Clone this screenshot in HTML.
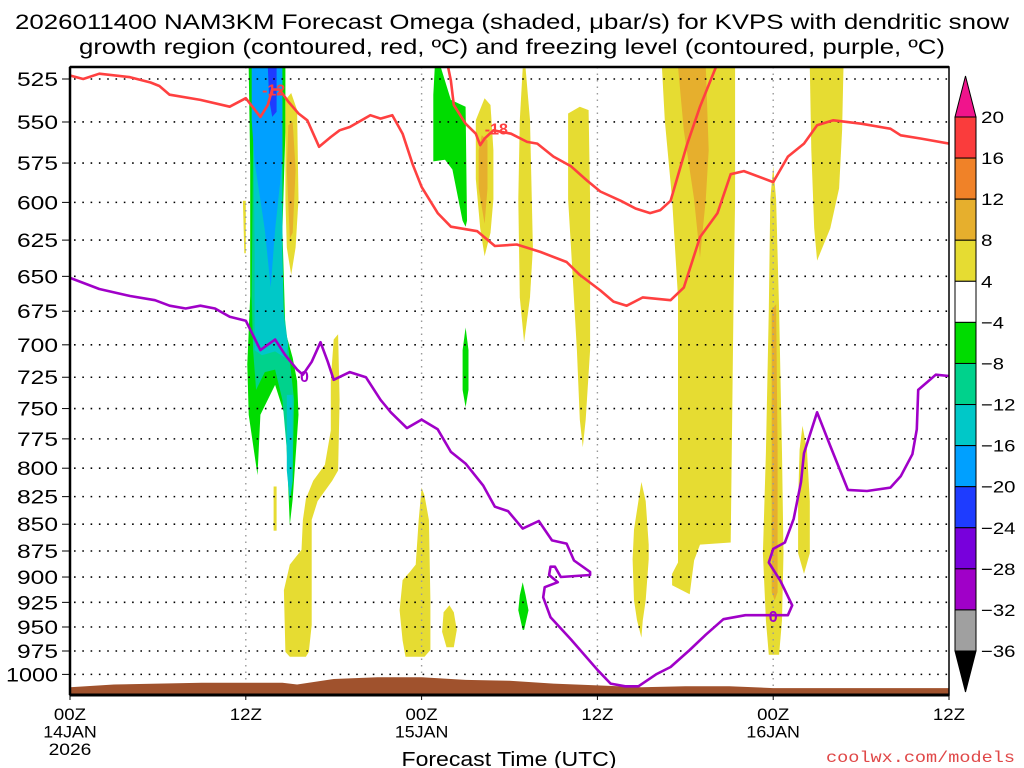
<!DOCTYPE html>
<html><head><meta charset="utf-8"><style>
html,body{margin:0;padding:0;background:#fff;}
svg{display:block;font-family:"Liberation Sans",sans-serif;}
</style></head><body>
<svg id="chart" width="1024" height="768" viewBox="0 0 1024 768" xmlns="http://www.w3.org/2000/svg">
<rect x="0" y="0" width="1024" height="768" fill="#fff"/>
<g>
<text x="512" y="29" font-size="21" text-anchor="middle" textLength="994" lengthAdjust="spacingAndGlyphs" fill="#000">2026011400 NAM3KM Forecast Omega (shaded, μbar/s) for KVPS with dendritic snow</text>
<text x="512" y="54" font-size="21" text-anchor="middle" textLength="866" lengthAdjust="spacingAndGlyphs" fill="#000">growth region (contoured, red, ºC) and freezing level (contoured, purple, ºC)</text>
</g>
<defs><clipPath id="plotclip"><rect x="70" y="67" width="879" height="628"/></clipPath></defs>
<g id="shading" clip-path="url(#plotclip)"></g>
<g id="grid"></g>
<g id="terrain" clip-path="url(#plotclip)"></g>
<g id="contours" clip-path="url(#plotclip)"></g>
<g id="axes"></g>
<g id="colorbar"></g>
<text x="509" y="766" font-size="20" text-anchor="middle" textLength="215" lengthAdjust="spacingAndGlyphs">Forecast Time (UTC)</text>
<text x="826" y="762" font-size="16" font-family="Liberation Mono, monospace" fill="#e04848" textLength="189" lengthAdjust="spacingAndGlyphs">coolwx.com/models</text>
</svg>
<script>
const NS='http://www.w3.org/2000/svg';
// ---- data ----
const pressureTicks=[525,550,575,600,625,650,675,700,725,750,775,800,825,850,875,900,925,950,975,1000];
const timeTickHours=[0,12,24,36,48,60];
const timeTickLabels=[["00Z","14JAN","2026"],["12Z"],["00Z","15JAN"],["12Z"],["00Z","16JAN"],["12Z"]];
const colorbarLevels=[20,16,12,8,4,-4,-8,-12,-16,-20,-24,-28,-32,-36];
const colorbarColors=["#fa3c3c","#f08228","#e6af2d","#e6dc32","#ffffff","#00dc00","#00d28c","#00c8c8","#00a0ff","#1e3cff","#7800dc","#a000c8","#a0a0a0"];
const terrainHours=[0,3,6,9,12,14.5,15.5,18,21,24,27,30,33,36,39,42,45,48,51,54,57,60];
const terrainPressure=[1014,1011,1010,1009,1009,1009,1011,1005,1003,1003,1006,1007,1010,1012,1014,1013,1013,1015,1015,1015,1015,1015];
const dgzWarmEdge=[[0,523],[0.9,525],[2,522],[4.1,524],[5.5,527],[6.1,529],[6.8,534],[8.9,537],[10.9,541],[12,536],[13,547],[13.5,540],[13.8,531],[14.3,531],[14.9,538],[15.6,545],[16.2,549],[17,565],[17.8,559],[18.4,555],[19.1,553],[20.5,546],[21.2,548],[22,546],[22.7,557],[23.4,576],[24,590],[25.1,607],[26,616],[27.8,619],[29,629],[30.5,628],[32.1,633],[33.9,640],[34.8,649],[36.2,660],[37.1,668],[38,671],[39.1,665],[41,667],[41.9,658],[43,623],[44.2,607],[45.1,582],[46,580],[48,587],[49,571],[50.1,563],[51,552],[52.1,549],[54,551],[56,554],[56.7,558],[58.1,560],[60,563]];
const dgzColdEdge=[[25.8,518],[26,526],[26.2,540],[27,551],[27.7,557],[28,564],[28.3,560],[28.9,555],[30.1,557],[31.2,562],[31.9,563],[33,571],[34.2,577],[35.3,586],[36.2,593],[37.6,599],[38.6,604],[39.6,607],[40.3,605],[41,599],[42.1,564],[43,541],[44.1,518]];
const freezingLevel=[[0,651],[2,659],[4.1,664],[5.8,667],[6.8,671],[7.9,673],[8.9,671],[9.9,673],[10.9,679],[12,682],[13,704],[14,696],[14.7,708],[15.5,719],[15.9,723],[16.5,713],[17.1,698],[17.6,713],[18,727],[19.1,721],[20.2,725],[21.2,743],[21.9,753],[23,766],[24,759],[25.1,767],[26,786],[27,796],[28.2,815],[29,834],[29.9,838],[30.9,854],[32,847],[32.9,865],[33.9,868],[34.4,884],[35.5,895],[35.5,898],[33.5,900],[33.1,890],[32.8,890],[32.7,898],[33.3,905],[32.4,910],[32.3,920],[32.8,940],[34.2,963],[36,995],[36.9,1010],[37.9,1013],[38.8,1013],[40,1000],[41,992],[42.3,974],[43.4,958],[44.6,942],[46.1,938],[47.6,938],[49,938],[49.3,928],[48.5,904],[47.7,886],[48,873],[48.8,867],[49.4,845],[49.9,812],[50.1,787],[51,753],[51.9,781],[53.1,819],[54.4,820],[56,817],[56.7,807],[57.5,788],[57.8,767],[57.9,735],[59.1,723],[60,724]];
const omegaShapeValues=[-6,-10,-14,-14,-18,-22,6,6,10,6,6,-6,-6,6,10,6,6,6,6,-6,6,6,10,6,10,6,6];
const omegaShapes=[
[[12.1,518],[14.7,518],[14.7,556],[14.5,618],[14.7,690],[15.2,710],[15.5,728],[15.6,755],[15.2,827],[15,851],[14.7,757],[14,731],[13,755],[12.8,806],[12.2,755],[12.1,715],[12.3,664],[12.3,576],[12.2,519]],
[[12.4,665],[12.5,561],[14.5,561],[14.5,665],[15,712],[15.3,743],[15.2,802],[15,824],[14.8,784],[14.5,743],[14,719],[13.3,721],[12.7,735],[12.5,704]],
[[12.5,537],[14.5,537],[14.5,630],[14.6,681],[14.9,700],[14.7,710],[14,705],[13.1,708],[12.6,704],[12.6,630]],
[[14.8,739],[15.2,739],[15.2,811],[15,829],[14.8,802]],
[[12.4,518],[14.5,518],[14.5,574],[14,618],[13.7,658],[13.3,618],[12.6,574],[12.4,549]],
[[13.5,518],[14.1,518],[14.1,544],[13.8,547],[13.6,537]],
[[11.8,599],[12,599],[12,634],[11.9,634]],
[[14.7,537],[15.1,533],[15.5,543],[15.6,598],[15.4,630],[15.1,649],[14.8,630],[14.7,598]],
[[14.9,552],[15.2,550],[15.4,579],[15.2,620],[15,624],[14.8,579]],
[[18,696],[18.3,692],[18.4,743],[18.3,802],[17.9,811],[16.9,829],[16.5,846],[16.5,948],[16.3,976],[16.1,981],[15,981],[14.7,976],[14.6,913],[15,888],[15.8,874],[15.9,846],[16.1,827],[16.6,811],[17.4,797],[17.8,768],[17.8,727]],
[[13.9,816],[14.1,816],[14.1,856],[13.9,856]],
[[24.9,518],[25.3,518],[26,537],[27,541],[27.1,612],[27,616],[26.8,612],[26.1,579],[25.6,573],[24.8,574],[24.8,534]],
[[27,687],[27.2,704],[27.2,735],[27,749],[26.8,735],[26.8,704]],
[[28.3,536],[28.7,540],[28.9,567],[28.9,598],[28.7,620],[28.3,636],[28,617],[27.7,585],[27.7,549]],
[[28.1,558],[28.5,561],[28.5,591],[28.3,614],[27.9,591],[27.9,567]],
[[30.9,519],[31.1,519],[31.4,549],[31.6,630],[31.4,665],[31,698],[30.7,665],[30.6,598],[30.7,549]],
[[34,545],[34.8,541],[35.4,543],[35.5,598],[35.5,704],[35.2,759],[35,782],[34.8,759],[34.6,704],[34.2,630],[34,598]],
[[24,817],[24.2,824],[24.5,846],[24.6,923],[24.6,974],[24.2,981],[22.9,981],[22.7,964],[22.5,933],[22.7,903],[23.2,895],[23.6,888],[23.8,846]],
[[25.9,928],[26.2,935],[26.4,953],[26.2,971],[25.7,971],[25.4,955],[25.5,935]],
[[30.9,905],[31.1,918],[31.3,933],[31,953],[30.9,953],[30.6,933],[30.7,918]],
[[39,812],[39.3,829],[39.5,869],[39.5,883],[39.3,923],[39.1,943],[39,961],[38.7,943],[38.5,923],[38.4,883],[38.5,855],[38.8,829]],
[[40.4,518],[45.4,518],[45.4,598],[45.3,665],[45.1,867],[43,869],[42.6,884],[42.3,917],[41.1,908],[41.1,897],[41.5,886],[41.5,665],[41.1,598],[40.6,549]],
[[41.5,518],[43.4,518],[43.6,567],[43.4,598],[43,637],[42.6,598],[41.9,555]],
[[48,577],[48.2,598],[48.4,674],[48.6,787],[48.7,877],[48.6,943],[48.4,979],[47.7,979],[47.5,943],[47.3,877],[47.5,787],[47.7,674],[47.8,598]],
[[47.9,674],[48.2,670],[48.3,784],[48.3,915],[48.1,923],[47.9,915],[47.9,784]],
[[50,764],[50.3,784],[50.5,829],[50.5,877],[50.1,897],[49.7,877],[49.7,829],[49.8,784]],
[[50.5,518],[52.8,518],[52.7,555],[52.5,591],[51.9,617],[51,639],[50.8,617],[50.6,567]]
];
const contourLabels=[["-12",13.9,531,"#ff4040"],["-18",29.1,554,"#ff4040"],["0",16.0,724,"#a000c8"],["0",48.0,939,"#a000c8"]];
// ---- scales ----
const X0=70,X1=949,Y_TOP=67,Y_BOT=695;
function xs(h){return X0+(X1-X0)*h/60;}
function ys(p){return 79+924*Math.log(p/525);}
function mk(tag,attrs,parent){const e=document.createElementNS(NS,tag);for(const k in attrs)e.setAttribute(k,attrs[k]);parent.appendChild(e);return e;}
function colorFor(v){for(let i=0;i<colorbarColors.length;i++){if(v<colorbarLevels[i]&&v>=colorbarLevels[i+1])return colorbarColors[i];}return v>=20?"#f0148c":"#000";}
const shadingG=document.getElementById('shading');
omegaShapes.forEach((pts,i)=>{
  const d='M'+pts.map(p=>xs(p[0]).toFixed(1)+','+ys(p[1]).toFixed(1)).join('L')+'Z';
  const el=mk('path',{d:d,fill:colorFor(omegaShapeValues[i])},shadingG);
  
  
});
// grid
const gridG=document.getElementById('grid');
pressureTicks.forEach(p=>{
  const el=mk('line',{x1:X0+4,x2:X1,y1:ys(p),y2:ys(p),stroke:'#000','stroke-width':1.6,'stroke-dasharray':'1.6 6.7'},gridG);
  
  
});
timeTickHours.slice(1,5).forEach(h=>{
  const el=mk('line',{x1:xs(h),x2:xs(h),y1:Y_TOP,y2:Y_BOT,stroke:'#999','stroke-width':1.4,'stroke-dasharray':'1.5 5'},gridG);
  
  
});
// terrain
const terrG=document.getElementById('terrain');
let td='M'+xs(0)+','+Y_BOT;
terrainHours.forEach((h,i)=>{td+='L'+xs(h).toFixed(1)+','+ys(terrainPressure[i]).toFixed(1);});
td+='L'+xs(60)+','+Y_BOT+'Z';
const tEl=mk('path',{d:td,fill:'#a0522d'},terrG);


// contours
const contG=document.getElementById('contours');
function drawLine(pts,color,name){
  const d='M'+pts.map(p=>xs(p[0]).toFixed(1)+','+ys(p[1]).toFixed(1)).join('L');
  const el=mk('path',{d:d,fill:'none',stroke:color,'stroke-width':2.6,'stroke-linejoin':'round'},contG);
  
  
}
drawLine(dgzWarmEdge,'#ff4040','dgz-minus12-contour');
drawLine(dgzColdEdge,'#ff4040','dgz-minus18-contour');
drawLine(freezingLevel,'#a000c8','freezing-level-contour');
contourLabels.forEach(c=>{
  const el=mk('text',{x:xs(c[1]),y:ys(c[2])+6,'font-size':16,'font-weight':'bold','text-anchor':'middle',fill:c[3]},contG);
  el.textContent=c[0];
  
  
});
// axes
const axG=document.getElementById('axes');
const frame=mk('rect',{x:X0,y:Y_TOP,width:X1-X0,height:Y_BOT-Y_TOP,fill:'none',stroke:'#000','stroke-width':1.5},axG);


mk('line',{x1:X0,x2:X0,y1:Y_TOP,y2:Y_BOT,stroke:'#000','stroke-width':2.5},axG);
mk('line',{x1:X0,x2:X1,y1:Y_BOT,y2:Y_BOT,stroke:'#000','stroke-width':3},axG);
mk('line',{x1:X0,x2:X1,y1:Y_TOP,y2:Y_TOP,stroke:'#000','stroke-width':2.5},axG);
pressureTicks.forEach(p=>{
  mk('line',{x1:X0-8,x2:X0,y1:ys(p),y2:ys(p),stroke:'#000','stroke-width':1},axG);
  const s=String(p);
  const t=mk('text',{x:58,y:ys(p)+7,'font-size':19,'text-anchor':'end',textLength:s.length===4?52:41,lengthAdjust:'spacingAndGlyphs'},axG);
  t.textContent=s;
  
  
});
timeTickHours.forEach((h,i)=>{
  mk('line',{x1:xs(h),x2:xs(h),y1:Y_BOT,y2:Y_BOT+5,stroke:'#000','stroke-width':1},axG);
  timeTickLabels[i].forEach((s,j)=>{
    const t=mk('text',{x:xs(h),y:720+j*17.5,'font-size':17,'text-anchor':'middle',textLength:s.length*10.7,lengthAdjust:'spacingAndGlyphs'},axG);
    t.textContent=s;
    
    
  });
});
// colorbar
const cbG=document.getElementById('colorbar');
const CBX=955,CBW=21,CBT=117,STEP=(651-117)/13;
const cbTop=mk('path',{d:`M${CBX},${CBT}L${CBX+CBW/2},76L${CBX+CBW},${CBT}Z`,fill:'#f0148c',stroke:'#000','stroke-width':1},cbG);


colorbarColors.forEach((c,i)=>{
  const r=mk('rect',{x:CBX,y:CBT+i*STEP,width:CBW,height:STEP,fill:c,stroke:'#000','stroke-width':1},cbG);
  
  
});
const cbBot=mk('path',{d:`M${CBX},651L${CBX+CBW/2},692L${CBX+CBW},651Z`,fill:'#000',stroke:'#000','stroke-width':1},cbG);


colorbarLevels.forEach((v,i)=>{
  const s=String(v).replace('-','\u2212');
  const t=mk('text',{x:981,y:CBT+i*STEP+6,'font-size':17,textLength:s.length*11.5,lengthAdjust:'spacingAndGlyphs'},cbG);
  t.textContent=s;
  
  
});
</script>
</body></html>
